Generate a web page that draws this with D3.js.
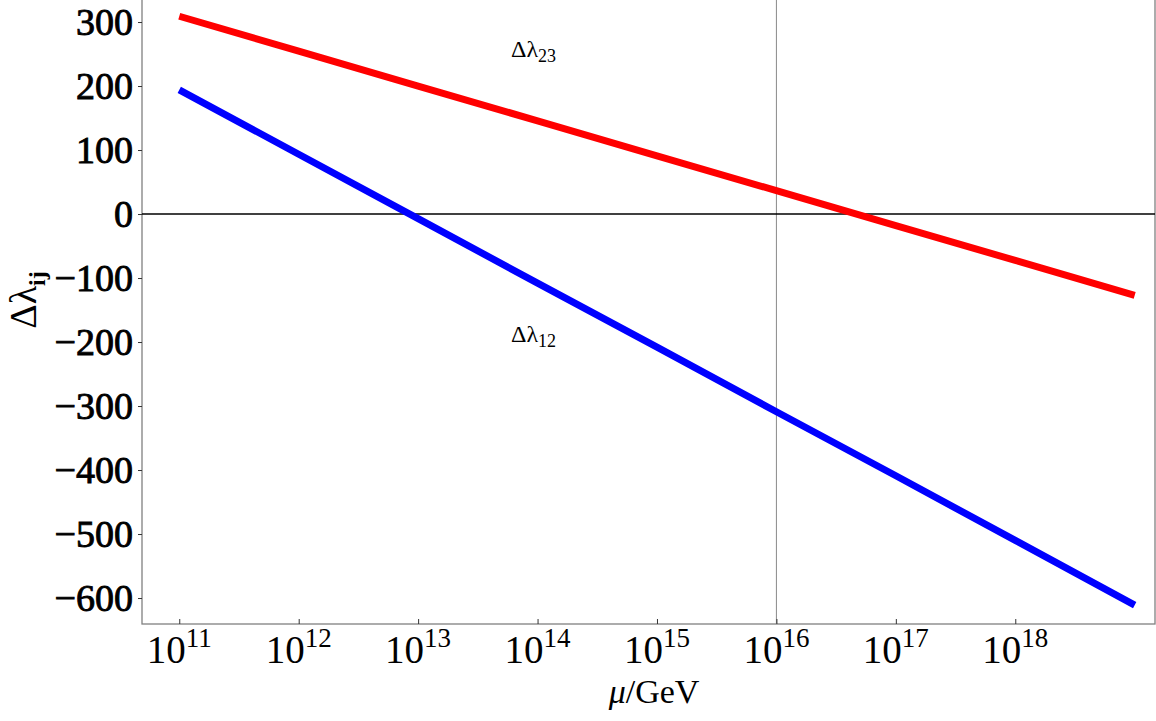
<!DOCTYPE html>
<html><head><meta charset="utf-8">
<script src="https://cdn.jsdelivr.net/npm/d3@7"></script>
<style>body{margin:0;background:#fff}svg{display:block}</style>
</head><body><svg id="c" width="1156" height="721"></svg>
<script>
const exponents = [11,12,13,14,15,16,17,18,19];
const dl23 = [309, 254.5, 200, 145.5, 91, 36.5, -18, -72.5, -127];
const dl12 = [194, 93.4, -7.2, -108, -208, -309, -409, -510, -611];
const xTickExps = [11,12,13,14,15,16,17,18];
const yTicks = [300,200,100,0,-100,-200,-300,-400,-500,-600];

const svg = d3.select("#c");
const L=142, R=1155, T=0, B=624;
const x = d3.scaleLog().domain([Math.pow(10,10.688), Math.pow(10,19.17)]).range([L,R]);
const y = d3.scaleLinear().domain([-640.6, 334.4]).range([B,T]);
const serif = "'Liberation Serif','DejaVu Serif',serif";

// frame
svg.append("rect").attr("x",L).attr("y",T-1).attr("width",R-L).attr("height",B-T+1)
  .attr("fill","none").attr("stroke","#808080").attr("stroke-width",1.3);

// reference lines
svg.append("line").attr("x1",x(1e16)).attr("x2",x(1e16)).attr("y1",T).attr("y2",B)
  .attr("stroke","#8a8a8a").attr("stroke-width",1);
svg.append("line").attr("x1",L).attr("x2",R).attr("y1",y(0)).attr("y2",y(0))
  .attr("stroke","#000").attr("stroke-width",1.3);

// axes
const xa = svg.append("g").attr("transform",`translate(0,${B})`)
  .call(d3.axisBottom(x).tickValues(xTickExps.map(e=>Math.pow(10,e))).tickSize(-5).tickFormat(""));
xa.select(".domain").remove();
xa.selectAll(".tick line").attr("stroke","#333");
xTickExps.forEach(e=>{
  const t = svg.append("text").attr("x",x(Math.pow(10,e))).attr("y",663)
    .attr("font-family",serif).attr("font-size",39).attr("text-anchor","middle");
  t.append("tspan").text("10");
  t.append("tspan").attr("font-size",27).attr("dy",-16).text(e);
});

const ya = svg.append("g").attr("transform",`translate(${L},0)`)
  .call(d3.axisLeft(y).tickValues(yTicks).tickSize(4).tickPadding(5)
    .tickFormat(d=> d<0 ? "\u2212"+(-d) : d));
ya.select(".domain").remove();
ya.selectAll(".tick line").attr("stroke","#333");
ya.selectAll(".tick text").attr("font-family",serif).attr("font-size",38)
  .attr("fill","#000").attr("stroke","#000").attr("stroke-width",0.9).attr("dy","0.34em");

// series
const line = d3.line().x((d,i)=>x(Math.pow(10,exponents[i]))).y(d=>y(d));
svg.append("path").datum(dl23).attr("d",line).attr("fill","none").attr("stroke","#ff0000").attr("stroke-width",7);
svg.append("path").datum(dl12).attr("d",line).attr("fill","none").attr("stroke","#0000ff").attr("stroke-width",7);

// annotations
function lab(xx,yy,sub){
  const t=svg.append("text").attr("x",xx).attr("y",yy).attr("font-family",serif).attr("font-size",24);
  t.append("tspan").text("\u0394\u03bb");
  t.append("tspan").attr("font-size",18).attr("dy",5).text(sub);
}
lab(511,57,"23");
lab(511,342,"12");

// axis titles
const xt = svg.append("text").attr("x",654).attr("y",703).attr("font-family",serif)
  .attr("font-size",34).attr("text-anchor","middle");
xt.append("tspan").attr("font-style","italic").text("\u03bc");
xt.append("tspan").text("/GeV");

const yt = svg.append("text").attr("transform","translate(36,300) rotate(-90)")
  .attr("font-family",serif).attr("font-size",38).attr("text-anchor","middle");
yt.append("tspan").text("\u0394\u03bb");
yt.append("tspan").attr("font-size",24).attr("font-weight","bold").attr("dy",9).text("ij");
</script></body></html>
